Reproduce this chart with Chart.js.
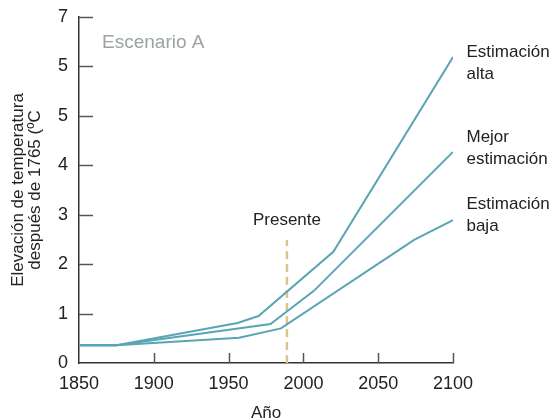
<!DOCTYPE html>
<html><head><meta charset="utf-8">
<script src="https://cdn.jsdelivr.net/npm/chart.js@4/dist/chart.umd.min.js"></script>
<style>html,body{margin:0;padding:0;background:#fff}</style>
</head><body>
<canvas id="c" width="551" height="420"></canvas>
<script>
// ---- data ----
const altaYears   = [1850, 1875, 1956, 1970, 2020, 2100];
const altaValues  = [0.36, 0.36, 0.81, 0.95, 2.25, 6.19];
const mejorYears  = [1850, 1875, 1978, 2007, 2100];
const mejorValues = [0.36, 0.36, 0.79, 1.46, 4.27];
const bajaYears   = [1850, 1875, 1957, 1985, 2074, 2100];
const bajaValues  = [0.36, 0.36, 0.51, 0.70, 2.49, 2.89];
const presenteYear = 1989;
const presenteRange = [0, 2.49];
const xTickLabels = ['1850', '1900', '1950', '2000', '2050', '2100'];
const yTickLabels = ['0', '1', '2', '3', '4', '5', '5', '7'];
const seriesNames = [['Estimación', 'alta'], ['Mejor', 'estimación'], ['Estimación', 'baja']];
const scenarioTitle = 'Escenario A';
const presenteLabel = 'Presente';
const xTitle = 'Año';
const yTitle = ['Elevación de temperatura', 'después de 1765 (ºC'];

// ---- annotation anchors (data units) ----
const seriesLabelAnchors = [{x: 2109, y: 6.29}, {x: 2109, y: 4.57}, {x: 2109, y: 3.22}];
const scenarioAnchor = {x: 1865.4, y: 6.47};
const presenteAnchor = {x: presenteYear, y: 2.88};

const pts = (xs, ys) => xs.map((x, i) => ({x: x, y: ys[i]}));
const TEAL = '#5aa5b5';
const FONT = "'Liberation Sans', Arial, Helvetica, sans-serif";
Chart.defaults.font.family = FONT;
Chart.defaults.color = '#222';

const innerTicks = {
  id: 'innerTicks',
  beforeDatasetsDraw(chart) {
    const {ctx, scales: {x, y}} = chart;
    ctx.save();
    ctx.strokeStyle = '#555';
    ctx.lineWidth = 1.5;
    y.ticks.forEach(t => {
      if (t.value === 0) return;
      const py = Math.round(y.getPixelForValue(t.value)) + 0.5;
      ctx.beginPath(); ctx.moveTo(x.left, py); ctx.lineTo(x.left + 14, py); ctx.stroke();
    });
    x.ticks.forEach(t => {
      if (t.value === x.min) return;
      const px = Math.round(x.getPixelForValue(t.value)) + 0.5;
      ctx.beginPath(); ctx.moveTo(px, y.bottom); ctx.lineTo(px, y.bottom - 10); ctx.stroke();
    });
    ctx.restore();
  }
};

const textLabels = {
  id: 'textLabels',
  afterDraw(chart) {
    const {ctx, scales: {x, y}} = chart;
    ctx.save();
    ctx.textBaseline = 'middle';
    ctx.font = '19px ' + FONT;
    ctx.fillStyle = '#9aa3a1';
    ctx.textAlign = 'left';
    ctx.fillText(scenarioTitle, x.getPixelForValue(scenarioAnchor.x), y.getPixelForValue(scenarioAnchor.y));
    ctx.font = '17px ' + FONT;
    ctx.fillStyle = '#222';
    ctx.textAlign = 'center';
    ctx.fillText(presenteLabel, x.getPixelForValue(presenteAnchor.x), y.getPixelForValue(presenteAnchor.y));
    ctx.textAlign = 'left';
    seriesNames.forEach((lines, i) => {
      const px = x.getPixelForValue(seriesLabelAnchors[i].x);
      const py = y.getPixelForValue(seriesLabelAnchors[i].y);
      lines.forEach((s, j) => ctx.fillText(s, px, py + j * 22));
    });
    ctx.restore();
  }
};

const lineStyle = {borderColor: TEAL, borderWidth: 2, pointRadius: 0, tension: 0, fill: false};

new Chart(document.getElementById('c'), {
  type: 'line',
  data: {
    datasets: [
      Object.assign({label: seriesNames[0].join(' '), data: pts(altaYears, altaValues)}, lineStyle),
      Object.assign({label: seriesNames[1].join(' '), data: pts(mejorYears, mejorValues)}, lineStyle),
      Object.assign({label: seriesNames[2].join(' '), data: pts(bajaYears, bajaValues)}, lineStyle),
      {label: presenteLabel, data: [{x: presenteYear, y: presenteRange[0]}, {x: presenteYear, y: presenteRange[1]}],
       borderColor: '#dcc48f', borderWidth: 2.5, borderDash: [8, 5], pointRadius: 0, fill: false}
    ]
  },
  options: {
    responsive: false,
    animation: false,
    devicePixelRatio: 1,
    layout: {padding: {left: 0, right: 98, top: 17, bottom: 0}},
    plugins: {legend: {display: false}, tooltip: {enabled: false}},
    scales: {
      x: {
        type: 'linear', min: 1850, max: 2100,
        grid: {display: false, drawTicks: false},
        border: {display: true, color: '#333', width: 1.5},
        ticks: {stepSize: 50, padding: 10, color: '#222', font: {size: 18},
                callback: (v, i) => xTickLabels[i]},
        title: {display: true, text: xTitle, color: '#222', font: {size: 17, lineHeight: 1.05},
                padding: {top: 0, bottom: -2}},
        afterFit: s => { s.height = 57; s.paddingLeft = 0; s.paddingRight = 0; }
      },
      y: {
        type: 'linear', min: 0, max: 7,
        grid: {display: false, drawTicks: false},
        border: {display: true, color: '#333', width: 1.5},
        ticks: {stepSize: 1, padding: 11, color: '#222', font: {size: 18},
                callback: (v, i) => yTickLabels[i]},
        title: {display: true, text: yTitle, color: '#222', font: {size: 17, lineHeight: 1.05},
                padding: {top: 9, bottom: 0}},
        afterFit: s => { s.width = 79; s.paddingTop = 0; s.paddingBottom = 0; }
      }
    }
  },
  plugins: [innerTicks, textLabels]
});
</script>
</body></html>
